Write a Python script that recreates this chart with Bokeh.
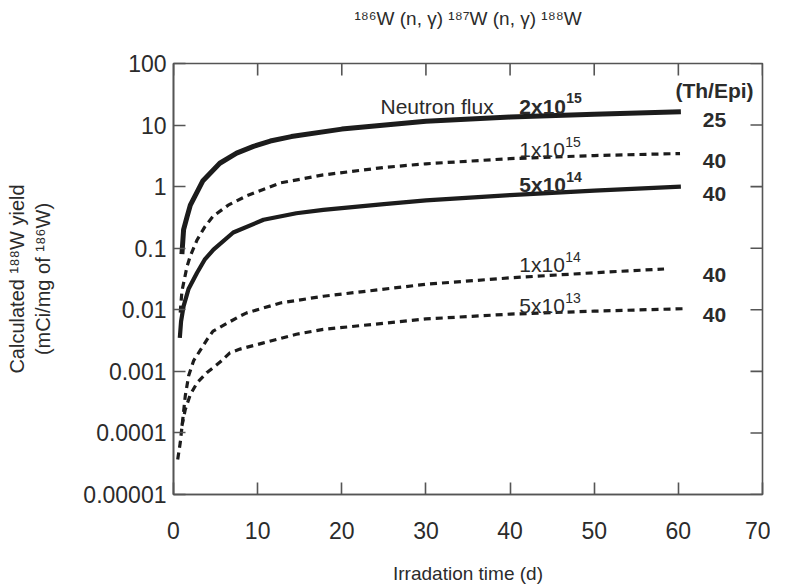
import math
from bokeh.plotting import figure
from bokeh.models import FixedTicker, Range1d, Title
from bokeh.core.properties import value
from bokeh.embed import file_html
from bokeh.resources import INLINE

# ---- data ----
x_2e15 = [1.0, 1.2, 1.6, 2.0, 2.4, 3.5, 5.5, 7.5, 9.5, 11.5, 14, 20, 30, 40, 50, 60.3]
y_2e15 = [0.08, 0.2, 0.32, 0.5, 0.64, 1.25, 2.4, 3.5, 4.5, 5.5, 6.5, 8.6, 11.5, 13.5, 15.0, 16.5]

x_1e15 = [0.8, 1.0, 1.6, 2.0, 2.8, 3.7, 4.7, 6.5, 8.7, 12.7, 17.8, 25, 30, 40, 50, 60.2]
y_1e15 = [0.009, 0.02, 0.05, 0.075, 0.136, 0.22, 0.33, 0.5, 0.71, 1.15, 1.55, 2.05, 2.35, 2.85, 3.2, 3.45]

x_5e14 = [0.75, 0.9, 1.2, 1.8, 2.8, 3.7, 4.75, 7.1, 10.7, 14.6, 17.8, 25, 30, 40, 50, 60.3]
y_5e14 = [0.0035, 0.0065, 0.0115, 0.022, 0.04, 0.065, 0.095, 0.18, 0.29, 0.37, 0.42, 0.52, 0.6, 0.73, 0.86, 1.0]

x_1e14 = [0.5, 0.8, 1.1, 1.4, 1.8, 2.4, 4.0, 4.7, 7.9, 8.7, 12.7, 17.8, 30, 40, 50, 58.3]
y_1e14 = [3.7e-5, 6.9e-5, 1.65e-4, 4.0e-4, 8.5e-4, 0.0015, 0.0033, 0.0045, 0.0079, 0.0089, 0.0129, 0.0166, 0.026, 0.033, 0.04, 0.046]

x_5e13 = [1.0, 1.4, 2.0, 2.8, 3.95, 5.5, 6.7, 7.9, 10.7, 14.6, 17.8, 30, 40, 50, 60.5]
y_5e13 = [1.3e-4, 2.4e-4, 4.2e-4, 6.5e-4, 9.5e-4, 0.0014, 0.002, 0.0023, 0.0029, 0.004, 0.0048, 0.0071, 0.0085, 0.0095, 0.0104]

flux_mantissa = ["2x10", "1x10", "5x10", "1x10", "5x10"]
flux_exponent = ["15", "15", "14", "14", "13"]
ratio_labels = ["25", "40", "40", "40", "40"]

x_ticks = [0, 10, 20, 30, 40, 50, 60, 70]
y_ticks = [1e-5, 1e-4, 1e-3, 1e-2, 1e-1, 1, 10, 100]
y_tick_labels = ["0.00001", "0.0001", "0.001", "0.01", "0.1", "1", "10", "100"]

# ---- figure ----
FONT = "Liberation Sans"
INK = "#1c1c1c"
TXT = "#2b2b2b"
AX = "#555555"

p = figure(frame_width=589, frame_height=431,
           min_border_left=173, min_border_right=8, min_border_top=63, min_border_bottom=82,
           x_range=Range1d(0, 70), y_range=Range1d(1e-5, 100), y_axis_type="log",
           output_backend="svg", toolbar_location=None, background_fill_color="white",
           border_fill_color="white")
p.grid.visible = False
p.outline_line_color = AX
p.outline_line_width = 1.6

for ax in (p.xaxis[0], p.yaxis[0]):
    ax.axis_line_color = AX
    ax.axis_line_width = 1.6
    ax.major_tick_line_color = AX
    ax.major_tick_line_width = 1.6
    ax.major_tick_in = 12
    ax.major_tick_out = 0
    ax.minor_tick_line_color = None
    ax.major_label_text_font = FONT
    ax.major_label_text_color = TXT
    ax.major_label_text_font_size = "23px"
    ax.axis_label_text_font = FONT
    ax.axis_label_text_font_style = "normal"
    ax.axis_label_text_color = TXT

yax = p.yaxis[0]
yax.ticker = FixedTicker(ticks=y_ticks)
yax.major_label_overrides = {t: s for t, s in zip(y_ticks, y_tick_labels)}
yax.major_label_standoff = 7
yax.axis_label = "Calculated \u00b9\u2078\u2078W yield\n(mCi/mg of \u00b9\u2078\u2076W)"
yax.axis_label_text_font_size = "20px"
yax.axis_label_standoff = 26

xax = p.xaxis[0]
xax.ticker = FixedTicker(ticks=x_ticks)
xax.major_label_standoff = 27
xax.axis_label = "Irradation time (d)"
xax.axis_label_text_font_size = "19px"
xax.axis_label_standoff = 21

# title (a blank second line lifts the visible line away from the frame)
title_text = "\u00b9\u2078\u2076W (n, \u03b3) \u00b9\u2078\u2077W (n, \u03b3) \u00b9\u2078\u2078W\n\u00a0"
t = Title(text=title_text, align="center", text_font=FONT, text_line_height=1.4,
          text_font_size="19px", text_font_style="normal", text_color=TXT)
p.add_layout(t, "above")

# inward ticks along the top and right edges of the frame
p.ray(x=x_ticks, y=[y_ticks[-1]] * len(x_ticks), length=12, length_units="screen",
      angle=-math.pi / 2, line_color=AX, line_width=1.6)
p.ray(x=[x_ticks[-1]] * len(y_ticks), y=y_ticks, length=12, length_units="screen",
      angle=math.pi, line_color=AX, line_width=1.6)

# ---- curves ----
p.line(x_2e15, y_2e15, line_color=INK, line_width=5)
p.line(x_1e15, y_1e15, line_color=INK, line_width=3.2, line_dash="7 5")
p.line(x_5e14, y_5e14, line_color=INK, line_width=4.2)
p.line(x_1e14, y_1e14, line_color=INK, line_width=3.2, line_dash="7 5")
p.line(x_5e13, y_5e13, line_color=INK, line_width=3.2, line_dash="7 5")

# ---- in-plot labels ----
flux_x = [41.1] * 5
flux_y = [20.3, 3.97, 1.07, 0.0537, 0.0116]
flux_bold = [True, False, True, False, False]
for m, e, xx, yy, b in zip(flux_mantissa, flux_exponent, flux_x, flux_y, flux_bold):
    style = "bold" if b else "normal"
    p.text(x=[xx], y=[yy], text=[m], text_font=value(FONT), text_font_size="21px",
           text_font_style=style, text_color=TXT, text_align="left", text_baseline="alphabetic")
    p.text(x=[xx], y=[yy], text=[e], text_font=value(FONT), text_font_size="14px",
           text_font_style=style, text_color=TXT, text_align="left", text_baseline="alphabetic",
           x_offset=47 if b else 46, y_offset=-8)

ratio_y = [12.2, 2.63, 0.75, 0.0371, 0.0083]
p.text(x=[64.3] * 5, y=ratio_y, text=ratio_labels, text_font=value(FONT), text_font_size="21px",
       text_font_style="bold", text_color=TXT, text_align="center", text_baseline="alphabetic")
p.text(x=[64.3], y=[36], text=["(Th/Epi)"], text_font=value(FONT), text_font_size="21px",
       text_font_style="bold", text_color=TXT, text_align="center", text_baseline="alphabetic")
p.text(x=[24.6], y=[20.3], text=["Neutron flux"], text_font=value(FONT), text_font_size="21px",
       text_color=TXT, text_align="left", text_baseline="alphabetic")

open("out.html", "w").write(file_html(p, INLINE))
